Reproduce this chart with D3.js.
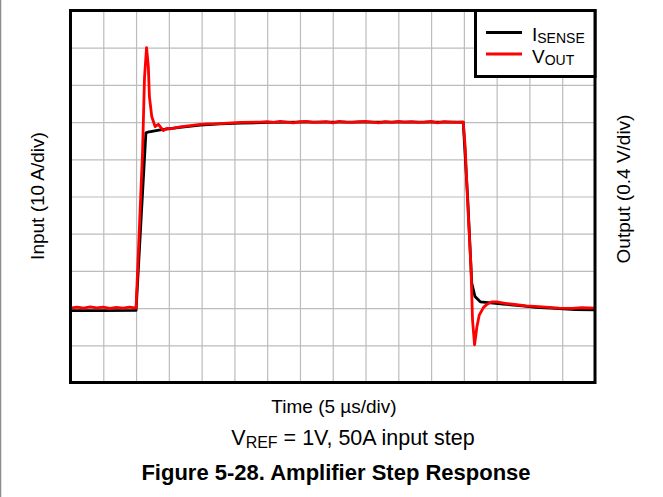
<!DOCTYPE html>
<html>
<head>
<meta charset="utf-8">
<script src="https://cdn.jsdelivr.net/npm/d3@7"></script>
<style>
  html, body { margin: 0; padding: 0; background: #fff; }
  svg { display: block; font-family: "Liberation Sans", Arial, sans-serif; }
</style>
</head>
<body>
<svg id="chart" width="663" height="497"></svg>
<script>
// ---- data ----
// time axis ticks (µs), 5 µs/div
const timeTicks = d3.range(0, 81, 5);
// input axis ticks (A), 10 A/div
const inputTicks = d3.range(0, 101, 10);

// I_SENSE (input current, A) vs time (µs)
const isenseTime = [0, 5, 10.0, 10.8, 11.5, 12.0, 13.7, 16.7, 19.8, 22.8, 25.9, 30, 35, 40, 50, 59.9,
  60.6, 61.2, 61.7, 62.5, 63.7, 66, 68.9, 71, 73.9, 77, 80];
const isenseAmps = [19.3, 19.3, 19.4, 45, 67.1, 67.4, 67.9, 68.6, 69.2, 69.5, 69.7, 69.9, 70.0, 70.0, 70.0, 70.0,
  49, 26.7, 23.1, 21.7, 21.5, 21.1, 20.6, 20.2, 19.9, 19.6, 19.5];

// V_OUT (output voltage, V) vs time (µs)
const voutTime = [0, 1, 2, 3, 4, 5, 6, 7, 8, 9, 10.0,
  10.68, 10.99, 11.29, 11.6, 11.87, 12.03, 12.39, 12.9, 13.4, 14.16, 14.68, 15.19, 16.71, 18, 19.76, 21, 22.82, 24, 26, 28.92,
  30, 31, 32, 33, 34, 35, 36, 37, 38, 39, 40, 41, 42, 43, 44, 45, 46, 47, 48, 49, 50, 51, 52, 53, 54, 55, 56, 57, 58, 59, 59.9,
  60.2, 60.56, 61.08, 61.32, 61.63, 61.99, 62.34, 63.0, 63.52, 64.28, 65, 66.3, 68, 69.5, 71.4, 73, 74.5, 76.5, 78, 80];
const voutVolts = [0.80, 0.81, 0.80, 0.812, 0.803, 0.81, 0.798, 0.808, 0.80, 0.81, 0.80,
  1.96, 2.48, 3.28, 3.6, 3.4, 3.08, 2.86, 2.752, 2.776, 2.708, 2.732, 2.728, 2.748, 2.76, 2.776, 2.78, 2.784, 2.79, 2.796, 2.80,
  2.804, 2.796, 2.808, 2.80, 2.792, 2.804, 2.808, 2.796, 2.80, 2.804, 2.792, 2.808, 2.80, 2.796, 2.804, 2.808, 2.80, 2.792, 2.804, 2.796, 2.808, 2.80, 2.804, 2.796, 2.80, 2.808, 2.792, 2.804, 2.80, 2.796, 2.80,
  2.536, 1.96, 1.244, 0.672, 0.404, 0.60, 0.724, 0.808, 0.84, 0.868, 0.866, 0.852, 0.836, 0.824, 0.816, 0.808, 0.80, 0.796, 0.804, 0.80];

const seriesNames = ["I", "V"];
const seriesSubs = ["SENSE", "OUT"];
const seriesColors = ["#000000", "#ff0000"];

// ---- layout ----
const svg = d3.select("#chart");
const mLeft = 70.5, mRight = 595, mTop = 10.5, mBottom = 382.5;
const W = mRight - mLeft, H = mBottom - mTop;

const x = d3.scaleLinear().domain([0, 80]).range([mLeft, mRight]);
const yIn = d3.scaleLinear().domain([0, 100]).range([mBottom, mTop]);
const yOut = d3.scaleLinear().domain([0, 4]).range([mBottom, mTop]);

// page edge line
svg.append("line").attr("x1", 0.5).attr("x2", 0.5).attr("y1", 0).attr("y2", 497)
  .attr("stroke", "#8c8c8c").attr("stroke-width", 1.5);

// grid
const gx = svg.append("g").attr("transform", `translate(0,${mBottom})`)
  .call(d3.axisBottom(x).tickValues(timeTicks).tickSize(-H).tickFormat(""));
const gy = svg.append("g").attr("transform", `translate(${mLeft},0)`)
  .call(d3.axisLeft(yIn).tickValues(inputTicks).tickSize(-W).tickFormat(""));
[gx, gy].forEach(g => {
  g.select(".domain").remove();
  g.selectAll(".tick line").attr("stroke", "#bcbcbc").attr("stroke-width", 1.2);
});

// series
const lineIn = d3.line().x((d, i) => x(isenseTime[i])).y(d => yIn(d));
const lineOut = d3.line().x((d, i) => x(voutTime[i])).y(d => yOut(d));
svg.append("path").datum(isenseAmps).attr("d", lineIn)
  .attr("fill", "none").attr("stroke", seriesColors[0]).attr("stroke-width", 2.8)
  .attr("stroke-linejoin", "round");
svg.append("path").datum(voutVolts).attr("d", lineOut)
  .attr("fill", "none").attr("stroke", seriesColors[1]).attr("stroke-width", 2.8)
  .attr("stroke-linejoin", "round");

// frame
svg.append("rect").attr("x", mLeft).attr("y", mTop).attr("width", W).attr("height", H)
  .attr("fill", "none").attr("stroke", "#000").attr("stroke-width", 3);

// legend
const lg = svg.append("g");
lg.append("rect").attr("x", 475.5).attr("y", mTop).attr("width", mRight - 475.5).attr("height", 66)
  .attr("fill", "#fff").attr("stroke", "#000").attr("stroke-width", 3);
seriesNames.forEach((n, i) => {
  const yy = 32.5 + i * 21.5;
  lg.append("line").attr("x1", 486).attr("x2", 522).attr("y1", yy).attr("y2", yy)
    .attr("stroke", seriesColors[i]).attr("stroke-width", 2.8);
  const t = lg.append("text").attr("x", 532).attr("y", yy + 8.5)
    .attr("font-size", 19).attr("fill", "#000");
  t.append("tspan").text(n);
  t.append("tspan").attr("font-size", 14).attr("dy", 2).text(seriesSubs[i]);
});

// axis titles
svg.append("text").attr("transform", "translate(44,196) rotate(-90)")
  .attr("text-anchor", "middle").attr("font-size", 19).text("Input (10 A/div)");
svg.append("text").attr("transform", "translate(630,189) rotate(-90)")
  .attr("text-anchor", "middle").attr("font-size", 19).text("Output (0.4 V/div)");
svg.append("text").attr("x", 334).attr("y", 413)
  .attr("text-anchor", "middle").attr("font-size", 19).text("Time (5 \u00b5s/div)");

// subtitle
const st = svg.append("text").attr("x", 353).attr("y", 445)
  .attr("text-anchor", "middle").attr("font-size", 21.5);
st.append("tspan").text("V");
st.append("tspan").attr("font-size", 16).attr("dy", 3).text("REF");
st.append("tspan").attr("dy", -3).text(" = 1V, 50A input step");

// figure caption
svg.append("text").attr("x", 336).attr("y", 480)
  .attr("text-anchor", "middle").attr("font-size", 22).attr("font-weight", "bold")
  .text("Figure 5-28. Amplifier Step Response");
</script>
</body>
</html>
